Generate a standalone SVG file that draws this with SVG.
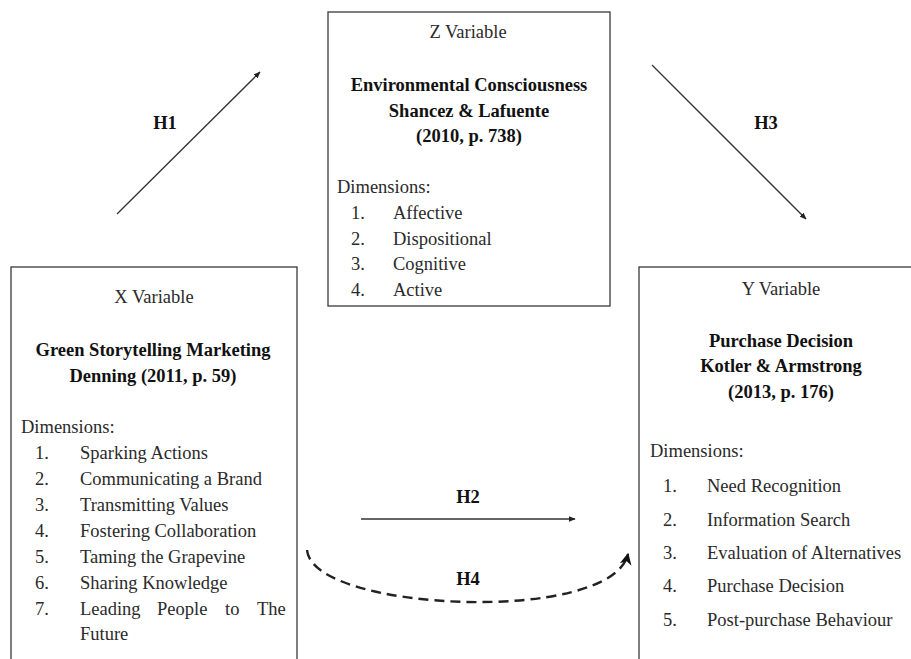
<svg xmlns="http://www.w3.org/2000/svg" width="911" height="659" viewBox="0 0 911 659">
<defs>
<style>
.box{fill:none;stroke:#3a3a3a;stroke-width:1.3}
text{font-family:"Liberation Serif","Times New Roman",serif;font-size:18.5px;fill:#2a2a2a}
.b{font-weight:bold;fill:#111}
.c{text-anchor:middle}
.ln{stroke:#333;stroke-width:1.3;fill:none}
.dash{stroke:#222;stroke-width:2.4;fill:none;stroke-dasharray:10 6}
</style>
<marker id="ah" viewBox="0 0 10 10" refX="9" refY="5" markerWidth="7" markerHeight="7" markerUnits="userSpaceOnUse" orient="auto">
<path d="M0,1 L10,5 L0,9 Z" fill="#222"/>
</marker>
<marker id="ah2" viewBox="0 0 10 10" refX="9" refY="5" markerWidth="5" markerHeight="5" orient="auto">
<path d="M0,0 L10,5 L0,10 L3,5 Z" fill="#111"/>
</marker>
</defs>
<rect width="911" height="659" fill="#fff"/>

<g id="node-z">
<rect class="box" x="328" y="12" width="282" height="294"/>
<text class="c" x="468" y="38">Z Variable</text>
<text class="c b" x="469" y="91">Environmental Consciousness</text>
<text class="c b" x="469" y="117">Shancez &amp; Lafuente</text>
<text class="c b" x="469" y="142">(2010, p. 738)</text>
<text x="337" y="193">Dimensions:</text>
<text x="351" y="219">1.</text><text x="393" y="219">Affective</text>
<text x="351" y="245">2.</text><text x="393" y="245">Dispositional</text>
<text x="351" y="270">3.</text><text x="393" y="270">Cognitive</text>
<text x="351" y="296">4.</text><text x="393" y="296">Active</text>
</g>

<g id="node-x">
<rect class="box" x="11" y="267" width="286" height="420"/>
<text class="c" x="154" y="303">X Variable</text>
<text class="c b" x="153" y="356">Green Storytelling Marketing</text>
<text class="c b" x="153" y="382">Denning (2011, p. 59)</text>
<text x="21" y="433">Dimensions:</text>
<text x="35" y="459">1.</text><text x="80" y="459">Sparking Actions</text>
<text x="35" y="485">2.</text><text x="80" y="485">Communicating a Brand</text>
<text x="35" y="511">3.</text><text x="80" y="511">Transmitting Values</text>
<text x="35" y="537">4.</text><text x="80" y="537">Fostering Collaboration</text>
<text x="35" y="563">5.</text><text x="80" y="563">Taming the Grapevine</text>
<text x="35" y="589">6.</text><text x="80" y="589">Sharing Knowledge</text>
<text x="35" y="615">7.</text><text y="615"><tspan x="80">Leading</tspan><tspan x="157">People</tspan><tspan x="225">to</tspan><tspan x="257">The</tspan></text>
<text x="80" y="640">Future</text>
</g>

<g id="node-y">
<rect class="box" x="639" y="267" width="300" height="420"/>
<text class="c" x="781" y="295">Y Variable</text>
<text class="c b" x="781" y="347">Purchase Decision</text>
<text class="c b" x="781" y="372">Kotler &amp; Armstrong</text>
<text class="c b" x="781" y="398">(2013, p. 176)</text>
<text x="650" y="457">Dimensions:</text>
<text x="663" y="492">1.</text><text x="707" y="492">Need Recognition</text>
<text x="663" y="526">2.</text><text x="707" y="526">Information Search</text>
<text x="663" y="559">3.</text><text x="707" y="559">Evaluation of Alternatives</text>
<text x="663" y="592">4.</text><text x="707" y="592">Purchase Decision</text>
<text x="663" y="626">5.</text><text x="707" y="626">Post-purchase Behaviour</text>
</g>

<g id="connectors">
<line class="ln" x1="117" y1="214" x2="260" y2="72" marker-end="url(#ah)"/>
<line class="ln" x1="652" y1="65" x2="806" y2="219" marker-end="url(#ah)"/>
<line class="ln" x1="361" y1="519" x2="575" y2="519" marker-end="url(#ah)"/>
<path class="dash" d="M307,550 C312,612 612,625 628,554" marker-end="url(#ah2)"/>
<text class="c b" x="165" y="129">H1</text>
<text class="c b" x="766" y="129">H3</text>
<text class="c b" x="468" y="503">H2</text>
<text class="c b" x="468" y="585">H4</text>
</g>
</svg>
